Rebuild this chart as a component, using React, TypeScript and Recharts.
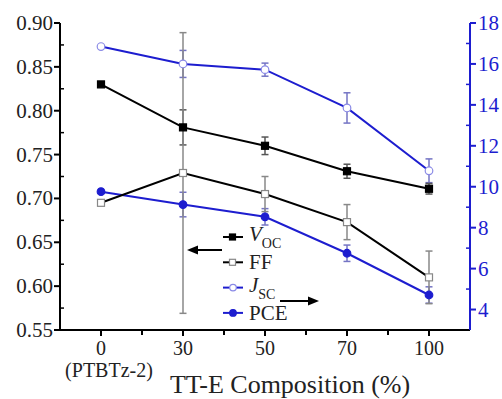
import { LineChart, Line, XAxis, YAxis, ErrorBar, Legend } from 'recharts'

// x positions (index) and the composition labels under them
const positions = [0, 1, 2, 3, 4]
const categories = ['0', '30', '50', '70', '100']

// left axis series
const voc = [0.83, 0.781, 0.76, 0.731, 0.711]
const vocErr = [null, 0.02, 0.01, 0.008, 0.006]
const ff = [0.695, 0.729, 0.705, 0.673, 0.61]
const ffErr = [null, 0.16, 0.02, 0.02, 0.03]

// right axis series
const jsc = [16.85, 16.0, 15.72, 13.85, 10.78]
const jscErr = [null, 0.66, 0.32, 0.74, 0.58]
const pce = [9.76, 9.13, 8.53, 6.75, 4.71]
const pceErr = [null, 0.6, 0.4, 0.4, 0.4]

const leftMajor = [0.55, 0.6, 0.65, 0.7, 0.75, 0.8, 0.85, 0.9]
const leftMinor = [0.575, 0.625, 0.675, 0.725, 0.775, 0.825, 0.875]
const rightMajor = [4, 6, 8, 10, 12, 14, 16, 18]
const rightMinor = [5, 7, 9, 11, 13, 15, 17]
const xMinor = [0.5, 1.5, 2.5, 3.5]

const data = positions.map((x, i) => ({
  x,
  voc: voc[i], vocErr: vocErr[i],
  ff: ff[i], ffErr: ffErr[i],
  jsc: jsc[i], jscErr: jscErr[i],
  pce: pce[i], pceErr: pceErr[i],
}))

const BLUE = '#1d1dcf'

// something keeps overriding the svg text font, so force it with a stylesheet
const css = `
#root svg text, #root svg tspan { font-family: 'Liberation Serif', 'Times New Roman', serif !important; }
#root svg text.fs20 { font-size: 20px !important; }
#root svg text.fs21 { font-size: 21px !important; }
#root svg text.fs26 { font-size: 26px !important; }
#root svg tspan.sub { font-size: 14px !important; }
#root svg tspan.it { font-style: italic !important; }
`

const isIn = (arr: number[], v: number) => arr.some((m) => Math.abs(m - v) < 1e-6)

const LeftTick = (props: any) => {
  const { x, y, payload } = props
  const major = isIn(leftMajor, payload.value)
  return (
    <g>
      {major ? (
        <>
          <line x1={x - 6} x2={x} y1={y} y2={y} stroke="#000" strokeWidth={2} />
          <text className="fs21" x={x - 7} y={y + 7} textAnchor="end" fontSize={21} fill="#222">
            {payload.value.toFixed(2)}
          </text>
        </>
      ) : (
        <line x1={x} x2={x + 4} y1={y} y2={y} stroke="#000" strokeWidth={1.5} />
      )}
    </g>
  )
}

const RightTick = (props: any) => {
  const { x, y, payload } = props
  const major = isIn(rightMajor, payload.value)
  return (
    <g>
      {major ? (
        <>
          <line x1={x} x2={x + 6} y1={y} y2={y} stroke={BLUE} strokeWidth={2} />
          <text className="fs21" x={x + 8} y={y + 7} textAnchor="start" fontSize={21} fill={BLUE}>
            {payload.value}
          </text>
        </>
      ) : (
        <line x1={x - 4} x2={x} y1={y} y2={y} stroke={BLUE} strokeWidth={1.5} />
      )}
    </g>
  )
}

const BottomTick = (props: any) => {
  const { x, y, payload } = props
  const idx = positions.indexOf(payload.value)
  const major = idx >= 0
  return (
    <g>
      <line x1={x} x2={x} y1={y} y2={y + (major ? 6 : 5)} stroke="#000" strokeWidth={2} />
      {major && (
        <text className="fs20" x={x} y={y + 25} textAnchor="middle" fontSize={20} fill="#222">
          {categories[idx]}
        </text>
      )}
      {idx === 0 && (
        <text className="fs20" x={x + 8} y={y + 47} textAnchor="middle" fontSize={20} fill="#222">
          (PTBTz-2)
        </text>
      )}
    </g>
  )
}

const squareDot = (fill: string, stroke: string) => (p: any) => (
  <rect key={p.index} x={p.cx - 3.5} y={p.cy - 3.5} width={7} height={7} fill={fill} stroke={stroke} strokeWidth={1.2} />
)
const circleDot = (fill: string, stroke: string) => (p: any) => (
  <circle key={p.index} cx={p.cx} cy={p.cy} r={3.8} fill={fill} stroke={stroke} strokeWidth={1.2} />
)

const legendItems = [
  { name: 'V', sub: 'OC', italic: true, color: '#000', marker: 'square', fill: '#000', edge: '#000' },
  { name: 'FF', sub: '', italic: false, color: '#000', marker: 'square', fill: '#fff', edge: '#888' },
  { name: 'J', sub: 'SC', italic: true, color: BLUE, marker: 'circle', fill: '#fff', edge: '#8a8ae6' },
  { name: 'PCE', sub: '', italic: false, color: BLUE, marker: 'circle', fill: BLUE, edge: BLUE },
]

const LegendBox = () => (
  <svg width={170} height={100} style={{ display: 'block', overflow: 'visible' }}>
    {legendItems.map((it, i) => {
      const y = 15 + i * 25.3
      return (
        <g key={it.name}>
          <line x1={53} x2={73} y1={y} y2={y} stroke={it.color} strokeWidth={2} />
          {it.marker === 'square' ? (
            <rect x={59.5} y={y - 3} width={6} height={6} fill={it.fill} stroke={it.edge} strokeWidth={1.2} />
          ) : (
            <circle cx={63} cy={y} r={3.3} fill={it.fill} stroke={it.edge} strokeWidth={1.2} />
          )}
          <text className="fs21" x={79} y={y + (it.sub ? 4 : 7)} fontSize={21} fill="#222">
            <tspan className={it.italic ? 'it' : undefined}>{it.name}</tspan>
            {it.sub && (
              <tspan className="sub" fontSize={14} dy={7}>{it.sub}</tspan>
            )}
          </text>
        </g>
      )
    })}
    {/* arrows pointing to the axis each pair belongs to */}
    <line x1={22} x2={52} y1={28} y2={28} stroke="#000" strokeWidth={2} />
    <polygon points="17,28 28,23.5 28,32.5" fill="#000" />
    <line x1={110} x2={140} y1={79} y2={79} stroke="#000" strokeWidth={2} />
    <polygon points="149,79 138,74.5 138,83.5" fill="#000" />
  </svg>
)

export default function App() {
  return (
    <div style={{ position: 'absolute', left: 0, top: 0 }}>
      <style>{css}</style>
      <LineChart width={502} height={399} data={data} margin={{ top: 23, right: 0, bottom: 0, left: 0 }}>
        <XAxis
          dataKey="x"
          type="number"
          domain={[-0.5, 4.5]}
          ticks={[...positions, ...xMinor].sort((a, b) => a - b)}
          interval={0}
          height={69}
          tickSize={0}
          tickMargin={0}
          tickLine={false}
          axisLine={{ stroke: '#000', strokeWidth: 2 }}
          tick={BottomTick}
          label={({ viewBox }: any) => (
            <text className="fs26" x={viewBox.x + viewBox.width / 2 + 25} y={viewBox.y + 63} textAnchor="middle" fontSize={26} fill="#222">
              TT-E Composition (%)
            </text>
          )}
        />
        <XAxis xAxisId="top" orientation="top" dataKey="x" type="number" domain={[-0.5, 4.5]} height={0} tick={false} tickLine={false} axisLine={{ stroke: '#000', strokeWidth: 2 }} />
        <YAxis
          yAxisId="left"
          domain={[0.55, 0.9]}
          ticks={[...leftMajor, ...leftMinor].sort((a, b) => a - b)}
          interval={0}
          width={60}
          tickSize={0}
          tickMargin={0}
          tickLine={false}
          axisLine={{ stroke: '#000', strokeWidth: 2 }}
          tick={LeftTick}
          allowDataOverflow
        />
        <YAxis
          yAxisId="right"
          orientation="right"
          domain={[3, 18]}
          ticks={[...rightMajor, ...rightMinor].sort((a, b) => a - b)}
          interval={0}
          width={32}
          tickSize={0}
          tickMargin={0}
          tickLine={false}
          axisLine={{ stroke: BLUE, strokeWidth: 2 }}
          tick={RightTick}
          allowDataOverflow
        />
        <Line yAxisId="right" dataKey="jsc" type="linear" stroke={BLUE} strokeWidth={2} isAnimationActive={false} activeDot={false} dot={circleDot('#fff', '#8a8ae6')}>
          <ErrorBar dataKey="jscErr" direction="y" width={3.5} stroke="#7474c4" strokeWidth={1.5} />
        </Line>
        <Line yAxisId="right" dataKey="pce" type="linear" stroke={BLUE} strokeWidth={2} isAnimationActive={false} activeDot={false} dot={circleDot(BLUE, BLUE)}>
          <ErrorBar dataKey="pceErr" direction="y" width={3.5} stroke="#7474c4" strokeWidth={1.5} />
        </Line>
        <Line yAxisId="left" dataKey="voc" type="linear" stroke="#000" strokeWidth={2} isAnimationActive={false} activeDot={false} dot={squareDot('#000', '#000')}>
          <ErrorBar dataKey="vocErr" direction="y" width={3.5} stroke="#555" strokeWidth={1.5} />
        </Line>
        <Line yAxisId="left" dataKey="ff" type="linear" stroke="#000" strokeWidth={2} isAnimationActive={false} activeDot={false} dot={squareDot('#fff', '#888')}>
          <ErrorBar dataKey="ffErr" direction="y" width={3.5} stroke="#888" strokeWidth={1.5} />
        </Line>
        <Legend
          layout="horizontal"
          verticalAlign="middle"
          align="center"
          content={LegendBox}
          wrapperStyle={{ position: 'absolute', left: 170, top: 222, width: 170, height: 100 }}
        />
      </LineChart>
    </div>
  )
}
